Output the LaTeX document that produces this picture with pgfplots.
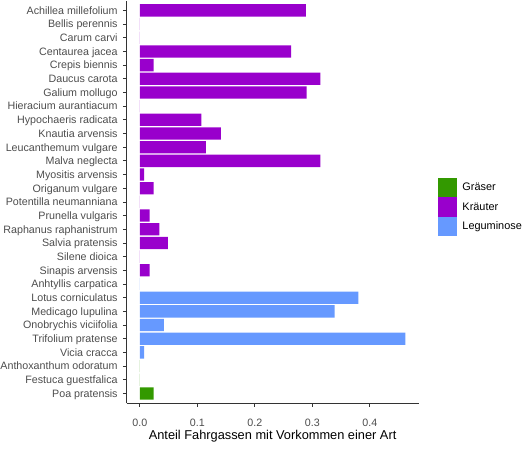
\documentclass[border=0pt]{standalone}
\usepackage{pgfplots}
\pgfplotsset{compat=1.18}
\usepackage{fontspec}
\setmainfont{Liberation Sans}

\definecolor{gras}{RGB}{51,153,0}
\definecolor{kraut}{RGB}{153,0,204}
\definecolor{legum}{RGB}{102,153,255}
\definecolor{axtext}{RGB}{77,77,77}
\definecolor{axline}{RGB}{51,51,51}

% share of tramlines in which a species occurs (y = 28 is the top row)
\pgfplotstableread{
y   v
2   0
1   0
0   0.024
}\gras
\pgfplotstableread{
y   v
28  0.289
27  0
26  0
25  0.263
24  0.024
23  0.314
22  0.290
21  0
20  0.107
19  0.141
18  0.115
17  0.314
16  0.0075
15  0.024
14  0
13  0.017
12  0.034
11  0.049
10  0
9   0.017
}\kraut
\pgfplotstableread{
y   v
8   0
7   0.380
6   0.339
5   0.042
4   0.462
3   0.0075
}\legum

\begin{document}
\begin{tikzpicture}
\useasboundingbox (0,0) rectangle (526bp,450bp);
\begin{axis}[
  at={(126.5bp,47bp)}, anchor=south west,
  scale only axis, width=292.2bp, height=401.5bp,
  xmin=-0.0231, xmax=0.485,
  ymin=-0.7, ymax=28.65,
  axis lines=left,
  axis line style={-, draw=axline, line width=0.8bp},
  tick align=outside,
  major tick length=3.7bp,
  tick style={draw=axline, line width=0.8bp},
  xtick={0,0.1,0.2,0.3,0.4},
  xticklabels={0.0,0.1,0.2,0.3,0.4},
  ytick={0,...,28},
  yticklabels={Poa pratensis, Festuca guestfalica, Anthoxanthum odoratum,
    Vicia cracca, Trifolium pratense, Onobrychis viciifolia, Medicago lupulina,
    Lotus corniculatus, Anhtyllis carpatica, Sinapis arvensis, Silene dioica,
    Salvia pratensis, Raphanus raphanistrum, Prunella vulgaris,
    Potentilla neumanniana, Origanum vulgare, Myositis arvensis,
    Malva neglecta, Leucanthemum vulgare, Knautia arvensis,
    Hypochaeris radicata, Hieracium aurantiacum, Galium mollugo,
    Daucus carota, Crepis biennis, Centaurea jacea, Carum carvi,
    Bellis perennis, Achillea millefolium},
  yticklabel style={font=\fontsize{10.7bp}{12bp}\selectfont, text=axtext,
    anchor=east, inner xsep=5bp, inner ysep=0pt,
    text height=7.7bp, text depth=0bp},
  xticklabel style={font=\fontsize{10.7bp}{12bp}\selectfont, text=axtext,
    anchor=north, inner xsep=0pt, inner ysep=12.5bp},
  xlabel={Anteil Fahrgassen mit Vorkommen einer Art},
  xlabel style={font=\fontsize{12.8bp}{14bp}\selectfont, text=black,
    at={(axis description cs:0.5,0)}, anchor=base, yshift=-36bp},
  xbar, bar width=0.9, bar shift=0,
  legend style={at={(axis description cs:1.066,0.5604)}, anchor=north west,
    draw=none, fill=none, inner sep=0pt, outer sep=0pt, row sep=0pt,
    font=\fontsize{10.9bp}{12bp}\selectfont,
    nodes={inner sep=1.5bp},
    /tikz/every odd column/.append style={column sep=3.5bp}},
  legend cell align=left,
  legend image code/.code={\fill[#1] (0bp,-9.75bp) rectangle (19.5bp,9.75bp);},
]
\addplot[fill=gras, draw=none] table[x=v, y=y] {\gras};
\addplot[fill=kraut, draw=none] table[x=v, y=y] {\kraut};
\addplot[fill=legum, draw=none] table[x=v, y=y] {\legum};
\legend{Gräser, Kräuter, Leguminose}
\end{axis}
\end{tikzpicture}
\end{document}
